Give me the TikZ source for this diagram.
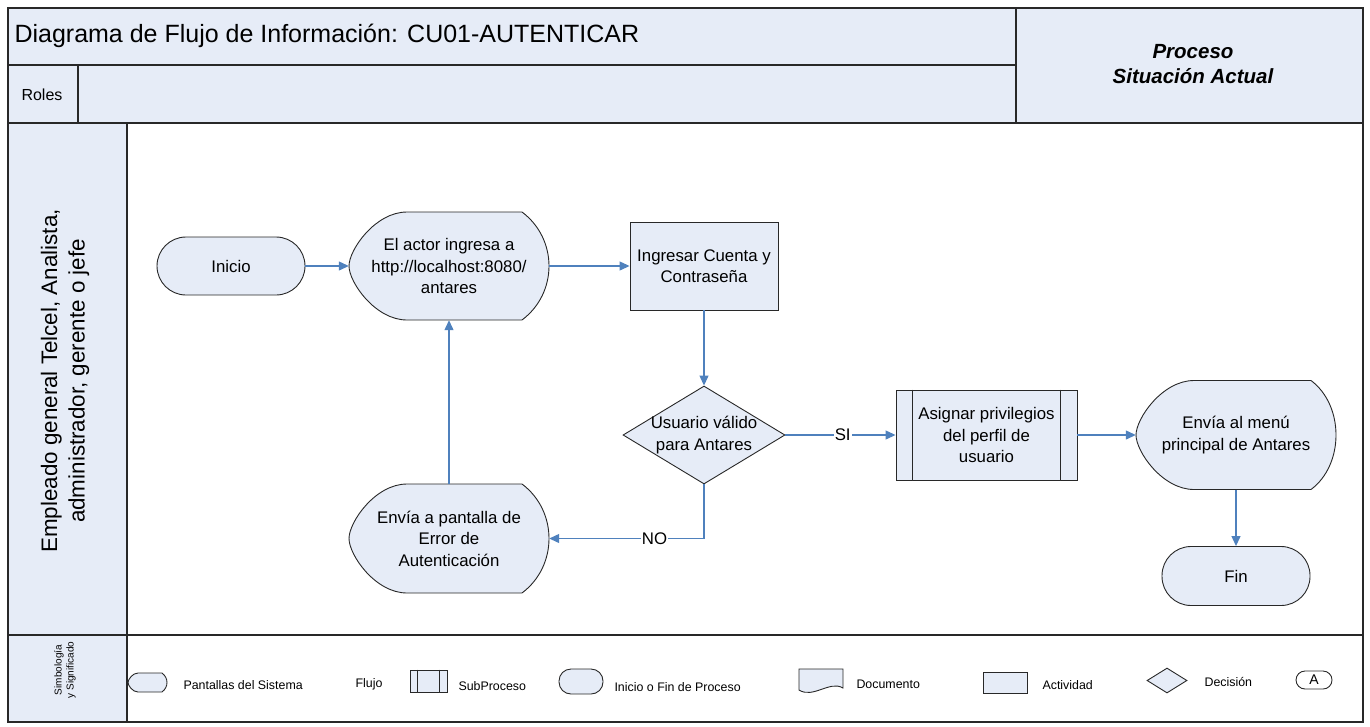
\documentclass[tikz,border=0pt]{standalone}
\usepackage{fontspec}
\setmainfont{Liberation Sans}
\usepackage{tikz}
\usetikzlibrary{arrows.meta,shapes.geometric,calc}

\definecolor{relleno}{RGB}{230,236,247}
\definecolor{flecha}{RGB}{79,129,189}
\definecolor{borde}{RGB}{40,40,40}

% pantalla: nombre, x, y, ancho, alto, curva izq, curva der, texto
\newcommand{\pantalla}[8]{%
    \pgfmathsetmacro\dsL{#2-#4/2}
    \pgfmathsetmacro\dsR{#2+#4/2}
    \pgfmathsetmacro\dsT{#3-#5/2}
    \pgfmathsetmacro\dsB{#3+#5/2}
    \filldraw[forma] (\dsL+#6,\dsT) -- (\dsR-#7,\dsT)
        .. controls (\dsR+#7/3,\dsT+#7) and (\dsR+#7/3,\dsB-#7) .. (\dsR-#7,\dsB)
        -- (\dsL+#6,\dsB)
        .. controls (\dsL+0.45*#6,\dsB) and (\dsL,#3+0.15*#5) .. (\dsL,#3)
        .. controls (\dsL,#3-0.15*#5) and (\dsL+0.45*#6,\dsT) .. cycle;
    \node[texto, minimum width=#4pt, minimum height=#5pt, inner sep=0pt] (#1) at (#2,#3) {#8};
}

\begin{document}
\begin{tikzpicture}[
        x=1pt, y=-1pt,
        marco/.style={draw=borde, line width=1.3pt},
        forma/.style={draw=borde, fill=relleno, line width=0.9pt},
        texto/.style={align=center, font=\fontsize{16.8}{21.5}\selectfont},
        terminal/.style={forma, texto, rounded corners=29pt,
            minimum width=148pt, minimum height=58pt},
        actividad/.style={forma, texto, rectangle},
        decision/.style={forma, diamond, inner sep=0pt},
        flujo/.style={->, >={Triangle[length=10pt,width=9pt]}, flecha,
            line width=1.2pt},
        etiqueta/.style={fill=white, text=black, inner sep=1pt,
            font=\fontsize{16.8}{20}\selectfont},
        leyenda/.style={anchor=west, font=\fontsize{12.4}{15}\selectfont},
    ]
    \useasboundingbox (0,0) rectangle (1370,726);

    % encabezado
    \filldraw[marco, fill=relleno] (8,8) rectangle (1363,123);
    \draw[marco] (8,65) -- (1016,65) (78,65) -- (78,123) (1016,8) -- (1016,123);
    \node[anchor=west, font=\fontsize{25}{29}\selectfont] (titulo) at (11,36)
        {Diagrama de Flujo de Información: CU01-AUTENTICAR};
    \node[font=\fontsize{16}{20}\selectfont] (roles) at (42,95) {Roles};
    \node[align=center, font=\fontsize{20.5}{25}\selectfont\bfseries\itshape]
        (proceso) at (1193,64) {Proceso\\Situación Actual};

    % carril
    \filldraw[marco, fill=relleno] (8,123) rectangle (127,635);
    \filldraw[marco, fill=relleno] (8,635) rectangle (127,722);
    \draw[marco] (127,635) -- (1363,635);
    \draw[marco] (8,8) rectangle (1363,722);
    \draw[marco, line width=2.6pt] (8,123) -- (1363,123);
    \node[rotate=90, align=center, font=\fontsize{22.4}{27.5}\selectfont] (rol)
        at (65,381) {Empleado general Telcel, Analista,\\administrador, gerente o jefe};

    % flujo
    \node[terminal] (inicio) at (231,266) {Inicio};
    \pantalla{actor}{449}{266}{200}{108}{58}{27}{El actor ingresa a\\http://localhost:8080/\\antares}
    \node[actividad, minimum width=148pt, minimum height=88pt] (ingresar) at (704,266)
        {Ingresar Cuenta y\\Contraseña};
    \node[decision, minimum width=162pt, minimum height=98pt,
        label={[texto]center:Usuario válido\\para Antares}] (valido) at (704,435) {};
    \node[actividad, minimum width=181pt, minimum height=90pt] (asignar) at (986.5,435)
        {Asignar privilegios\\del perfil de\\usuario};
    \draw[forma] ([xshift=17pt]asignar.north west) -- ([xshift=17pt]asignar.south west)
                 ([xshift=-17pt]asignar.north east) -- ([xshift=-17pt]asignar.south east);
    \pantalla{menu}{1236}{435}{200}{109}{58}{25}{Envía al menú\\principal de Antares}
    \pantalla{error}{449}{538.5}{200}{109}{58}{27}{Envía a pantalla de\\Error de\\Autenticación}
    \node[terminal, minimum height=59pt] (fin) at (1236,576) {Fin};

    \draw[flujo] (inicio) -- (actor);
    \draw[flujo] (actor) -- (ingresar);
    \draw[flujo] (ingresar) -- (valido);
    \draw[flujo] (valido) -- node[etiqueta, pos=0.52] {SI} (asignar);
    \draw[flujo] (valido.south) |- node[etiqueta, pos=0.66] {NO} (error.east);
    \draw[flujo] (error) -- (actor);
    \draw[flujo] (asignar) -- (menu);
    \draw[flujo] (menu) -- (fin);

    % simbologia
    \node[rotate=90, align=center, font=\fontsize{10}{12}\selectfont] (simbologia)
        at (65,670) {Simbología\\y Significado};
    \pantalla{lpantalla}{147.5}{682.5}{39}{19}{10}{5}{}
    \node[leyenda] (tpantalla) at (180,685) {Pantallas del Sistema};
    \node[leyenda] (tflujo) at (352,684) {Flujo};
    \node[actividad, minimum width=37pt, minimum height=22pt] (lsub) at (428.5,681) {};
    \draw[forma] ([xshift=8pt]lsub.north west) -- ([xshift=8pt]lsub.south west)
                 ([xshift=-8pt]lsub.north east) -- ([xshift=-8pt]lsub.south east);
    \node[leyenda] (tsub) at (455,686) {SubProceso};
    \node[terminal, minimum width=44pt, minimum height=25pt, rounded corners=12pt]
        (lterminal) at (581,681.5) {};
    \node[leyenda] (tterminal) at (611,687) {Inicio o Fin de Proceso};
    \filldraw[forma] (799,669) -- (843,669) -- (843,688)
        .. controls (830,680) and (813,699) .. (799,690) -- cycle;
    \node[leyenda] (tdocumento) at (853,684) {Documento};
    \node[actividad, minimum width=44pt, minimum height=21pt] (lactividad) at (1005,682.5) {};
    \node[leyenda] (tactividad) at (1039,685) {Actividad};
    \node[decision, minimum width=40pt, minimum height=25pt] (ldecision) at (1167,680.5) {};
    \node[leyenda] (tdecision) at (1201,682) {Decisión};
    \node[forma, rounded corners=9pt, fill=white, minimum width=36pt, minimum height=18pt,
        inner sep=0pt, font=\fontsize{14}{16}\selectfont] (lconector) at (1314,680) {A};
\end{tikzpicture}
\end{document}
